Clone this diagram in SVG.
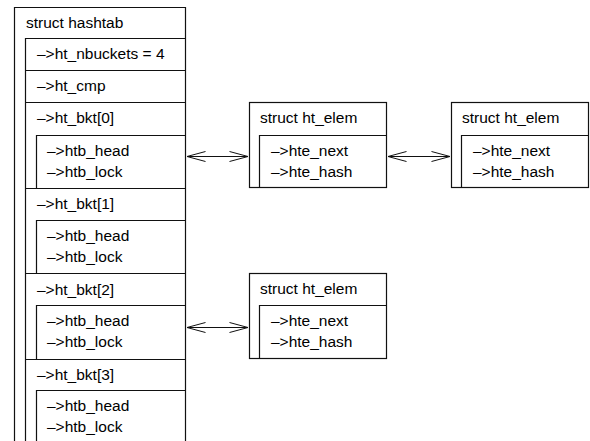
<svg xmlns="http://www.w3.org/2000/svg" width="590" height="441" viewBox="0 0 590 441">
<defs>
<style>
.ln{fill:none;stroke:#111;stroke-width:1.2}
.t{font-family:"Liberation Sans",Arial,Helvetica,sans-serif;font-size:15.5px;fill:#000}
.c{fill:none;stroke:#111;stroke-width:1}
</style>
<marker id="ah" viewBox="0 0 20 12" refX="19.5" refY="6" markerWidth="20" markerHeight="12" markerUnits="userSpaceOnUse" orient="auto-start-reverse">
<path d="M1,1 L19.5,6 L1,11" fill="none" stroke="#111" stroke-width="1"/>
</marker>
</defs>
<rect width="590" height="441" fill="#fff"/>
<g id="hashtab">
<path class="ln" d="M14.5,441 V7.5 H185.5 V441"/>
<path class="ln" d="M25.5,441 V38.5 H185.5 M25.5,70.5 H185.5 M25.5,102.5 H185.5 M25.5,188.5 H185.5 M25.5,273.5 H185.5 M25.5,359.5 H185.5"/>
<path class="ln" d="M36.5,188.5 V135.5 H185.5 M36.5,273.5 V220.5 H185.5 M36.5,359.5 V305.5 H185.5 M36.5,441 V390.5 H185.5"/>
<text class="t" x="26" y="28">struct hashtab</text>
<text class="t" x="37" y="59">–&gt;ht_nbuckets = 4</text>
<text class="t" x="37" y="91">–&gt;ht_cmp</text>
<text class="t" x="37" y="123">–&gt;ht_bkt[0]</text>
<text class="t" x="47" y="156">–&gt;htb_head</text>
<text class="t" x="47" y="177">–&gt;htb_lock</text>
<text class="t" x="37" y="209">–&gt;ht_bkt[1]</text>
<text class="t" x="47" y="241">–&gt;htb_head</text>
<text class="t" x="47" y="262">–&gt;htb_lock</text>
<text class="t" x="37" y="295">–&gt;ht_bkt[2]</text>
<text class="t" x="47" y="326">–&gt;htb_head</text>
<text class="t" x="47" y="347">–&gt;htb_lock</text>
<text class="t" x="37" y="380">–&gt;ht_bkt[3]</text>
<text class="t" x="47" y="411">–&gt;htb_head</text>
<text class="t" x="47" y="432">–&gt;htb_lock</text>
</g>
<g id="elem1">
<rect class="ln" x="249.5" y="102.5" width="137" height="85"/>
<path class="ln" d="M259.5,187.5 V135.5 H386.5"/>
<text class="t" x="260" y="123">struct ht_elem</text>
<text class="t" x="271" y="156">–&gt;hte_next</text>
<text class="t" x="271" y="177">–&gt;hte_hash</text>
</g>
<g id="elem2">
<rect class="ln" x="451.5" y="102.5" width="137" height="85"/>
<path class="ln" d="M461.5,187.5 V135.5 H588.5"/>
<text class="t" x="462" y="123">struct ht_elem</text>
<text class="t" x="473" y="156">–&gt;hte_next</text>
<text class="t" x="473" y="177">–&gt;hte_hash</text>
</g>
<g id="elem3">
<rect class="ln" x="249.5" y="273.5" width="137" height="85"/>
<path class="ln" d="M259.5,358.5 V305.5 H386.5"/>
<text class="t" x="260" y="294">struct ht_elem</text>
<text class="t" x="271" y="326">–&gt;hte_next</text>
<text class="t" x="271" y="347">–&gt;hte_hash</text>
</g>
<g id="connectors">
<line class="c" x1="187" y1="156.5" x2="248" y2="156.5" marker-start="url(#ah)" marker-end="url(#ah)"/>
<line class="c" x1="388" y1="156.5" x2="450" y2="156.5" marker-start="url(#ah)" marker-end="url(#ah)"/>
<line class="c" x1="187" y1="327.5" x2="248" y2="327.5" marker-start="url(#ah)" marker-end="url(#ah)"/>
</g>
</svg>
